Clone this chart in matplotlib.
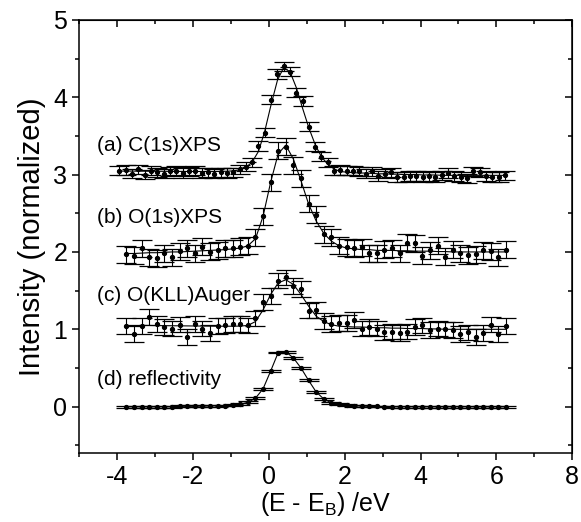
import matplotlib
matplotlib.use("Agg")
import matplotlib.pyplot as plt
from matplotlib.ticker import MultipleLocator

plt.rcParams['font.family'] = ['Liberation Sans', 'DejaVu Sans']
plt.rcParams['mathtext.fontset'] = 'custom'
plt.rcParams['mathtext.rm'] = 'Liberation Sans'
plt.rcParams['axes.unicode_minus'] = False

# ---- data ----
x_c = [-3.94, -3.77, -3.61, -3.44, -3.27, -3.11, -2.94, -2.77, -2.61, -2.44,
       -2.27, -2.11, -1.94, -1.77, -1.61, -1.44, -1.27, -1.11, -0.94, -0.77,
       -0.61, -0.44, -0.27, -0.11, 0.06, 0.23, 0.39, 0.56, 0.73, 0.89,
       1.06, 1.23, 1.39, 1.56, 1.73, 1.89, 2.06, 2.23, 2.39, 2.56,
       2.73, 2.89, 3.06, 3.23, 3.39, 3.56, 3.73, 3.89, 4.06, 4.23,
       4.39, 4.56, 4.73, 4.89, 5.06, 5.23, 5.39, 5.56, 5.73, 5.89,
       6.06, 6.23]
c1s = [3.05, 3.06, 3.01, 3.07, 3.00, 3.05, 3.03, 3.01, 3.04, 3.05,
       3.02, 3.04, 3.05, 3.02, 3.03, 3.01, 3.03, 3.02, 3.03, 3.07,
       3.10, 3.16, 3.37, 3.54, 3.97, 4.30, 4.40, 4.33, 4.06, 3.95,
       3.62, 3.36, 3.23, 3.16, 3.05, 3.06, 3.05, 3.05, 3.04, 3.01,
       3.04, 2.98, 3.01, 3.03, 2.97, 2.97, 2.98, 2.98, 2.97, 2.98,
       2.97, 2.99, 3.02, 2.98, 2.97, 2.95, 3.04, 3.03, 2.98, 2.97,
       2.97, 2.99]
c1s_fit = [3.045, 3.045, 3.045, 3.044, 3.044, 3.043, 3.043, 3.042, 3.042, 3.041,
           3.041, 3.040, 3.040, 3.040, 3.040, 3.040, 3.041, 3.043, 3.048, 3.06,
           3.09, 3.16, 3.30, 3.55, 3.90, 4.22, 4.38, 4.33, 4.12, 3.86,
           3.60, 3.38, 3.23, 3.13, 3.07, 3.04, 3.03, 3.025, 3.02, 3.02,
           3.015, 3.01, 3.01, 3.005, 3.005, 3.00, 3.00, 3.00, 2.995, 2.995,
           2.995, 2.99, 2.99, 2.99, 2.99, 2.99, 2.99, 2.99, 2.99, 2.99,
           2.99, 2.99]

x_o = [-3.75, -3.55, -3.35, -3.15, -2.95, -2.75, -2.55, -2.35, -2.15, -1.95,
       -1.75, -1.55, -1.35, -1.15, -0.95, -0.75, -0.55, -0.35, -0.15, 0.05,
       0.25, 0.45, 0.65, 0.85, 1.05, 1.25, 1.45, 1.65, 1.85, 2.05,
       2.25, 2.45, 2.65, 2.85, 3.05, 3.25, 3.45, 3.65, 3.85, 4.05,
       4.25, 4.45, 4.65, 4.85, 5.05, 5.25, 5.45, 5.65, 5.85, 6.05,
       6.25]
o1s = [1.97, 1.95, 2.05, 1.93, 1.92, 1.98, 1.93, 2.01, 2.05, 1.98,
       2.07, 2.00, 2.02, 2.05, 2.05, 2.07, 2.08, 2.19, 2.46, 2.90,
       3.31, 3.36, 3.12, 2.95, 2.62, 2.48, 2.23, 2.19, 2.08, 2.06,
       2.05, 2.06, 1.98, 1.98, 2.03, 2.05, 1.98, 2.12, 2.11, 1.95,
       2.02, 2.08, 1.94, 2.03, 1.98, 1.96, 1.97, 2.02, 2.01, 1.93,
       2.03]
o1s_fit = [1.98, 1.98, 1.985, 1.99, 1.99, 1.995, 2.00, 2.00, 2.005, 2.01,
           2.015, 2.02, 2.025, 2.03, 2.04, 2.05, 2.08, 2.17, 2.46, 2.90,
           3.27, 3.38, 3.20, 2.92, 2.62, 2.40, 2.24, 2.14, 2.08, 2.05,
           2.04, 2.03, 2.03, 2.02, 2.02, 2.02, 2.015, 2.015, 2.01, 2.01,
           2.01, 2.005, 2.005, 2.00, 2.00, 2.00, 2.00, 2.00, 2.00, 2.00,
           2.00]

auger = [1.04, 0.94, 1.04, 1.16, 1.07, 1.03, 1.01, 1.06, 0.90, 1.07,
         1.01, 0.95, 1.04, 1.05, 1.07, 1.07, 1.05, 1.14, 1.35, 1.43,
         1.63, 1.67, 1.56, 1.52, 1.24, 1.25, 1.11, 1.07, 1.08, 1.08,
         1.12, 1.01, 1.03, 1.01, 0.96, 0.97, 0.95, 0.97, 1.03, 1.05,
         0.99, 1.01, 1.00, 0.99, 0.94, 0.96, 0.90, 0.95, 1.06, 0.94,
         1.04]
auger_fit = [1.05, 1.05, 1.05, 1.05, 1.048, 1.047, 1.046, 1.045, 1.044, 1.043,
             1.042, 1.041, 1.040, 1.040, 1.040, 1.042, 1.05, 1.10, 1.25, 1.45,
             1.60, 1.64, 1.58, 1.45, 1.30, 1.17, 1.10, 1.06, 1.04, 1.035,
             1.03, 1.03, 1.025, 1.02, 1.02, 1.015, 1.015, 1.01, 1.01, 1.01,
             1.005, 1.005, 1.00, 1.00, 1.00, 1.00, 1.00, 1.00, 1.00, 1.00,
             1.00]

refl = [0.00, 0.00, 0.00, 0.00, 0.00, 0.00, 0.00, 0.005, 0.005, 0.005,
        0.008, 0.010, 0.012, 0.015, 0.020, 0.030, 0.055, 0.11, 0.23, 0.46,
        0.70, 0.71, 0.63, 0.50, 0.34, 0.19, 0.10, 0.05, 0.03, 0.02,
        0.012, 0.008, 0.005, 0.003, 0.002, 0.00, 0.00, 0.00, 0.00, 0.00,
        0.00, 0.00, 0.00, 0.00, 0.00, 0.00, 0.00, 0.00, 0.00, 0.00,
        0.00]
refl_fit = refl

err_c, err_o, err_a, err_r = 0.06, 0.11, 0.10, 0.012

labels = ["(a) C(1s)XPS", "(b) O(1s)XPS", "(c) O(KLL)Auger", "(d) reflectivity"]
label_y = [3.38, 2.45, 1.44, 0.35]

xticks = [-4, -2, 0, 2, 4, 6, 8]
yticks = [0, 1, 2, 3, 4, 5]

# ---- figure ----
fig = plt.figure(figsize=(5.81, 5.22), dpi=100)
ax = fig.add_axes([0.136, 0.132, 0.849, 0.830])

def series(x, y, fit, err):
    ax.plot(x, fit, color='black', lw=0.8, zorder=2)
    ln, caps, bars = ax.errorbar(x, y, yerr=err, fmt='o', ms=2.8, color='black',
                                 ecolor='black', elinewidth=0.8, capsize=7,
                                 capthick=0.9, zorder=3)
    caps[0].set_color('#8a8a8a')

series(x_c, c1s, c1s_fit, err_c)
series(x_o, o1s, o1s_fit, err_o)
series(x_o, auger, auger_fit, err_a)
series(x_o, refl, refl_fit, err_r)

for t, yy in zip(labels, label_y):
    ax.text(-4.53, yy, t, fontsize=15, va='center', ha='left')

ax.set_xlim(-5, 8)
ax.set_ylim(-0.6, 5)
ax.set_xticks(xticks)
ax.set_yticks(yticks)
ax.xaxis.set_minor_locator(MultipleLocator(1))
ax.yaxis.set_minor_locator(MultipleLocator(0.5))
ax.tick_params(which='both', width=1.1, labelsize=18)
ax.tick_params(which='major', length=5)
ax.tick_params(which='minor', length=3)
ax.tick_params(axis='x', which='both', direction='out', top=False)
ax.tick_params(axis='y', which='both', direction='out', right=False)
for s in ax.spines.values():
    s.set_linewidth(1.1)

# inward ticks on top and right
ax_top = ax.secondary_xaxis('top')
ax_top.set_xticks(xticks)
ax_top.xaxis.set_minor_locator(MultipleLocator(1))
ax_top.tick_params(which='both', direction='in', labeltop=False, width=1.1)
ax_top.tick_params(which='major', length=5)
ax_top.tick_params(which='minor', length=3)
ax_top.set_xticklabels([])
ax_right = ax.secondary_yaxis('right')
ax_right.set_yticks(yticks)
ax_right.yaxis.set_minor_locator(MultipleLocator(0.5))
ax_right.tick_params(which='both', direction='in', width=1.1)
ax_right.tick_params(which='major', length=5)
ax_right.tick_params(which='minor', length=3)
ax_right.set_yticklabels([])

ax.set_xlabel(r"(E - E$_\mathregular{B}$) /eV", fontsize=18, labelpad=1)
ax.set_ylabel("Intensity (normalized)", fontsize=21, labelpad=5)

fig.savefig("out.png", dpi=100)
